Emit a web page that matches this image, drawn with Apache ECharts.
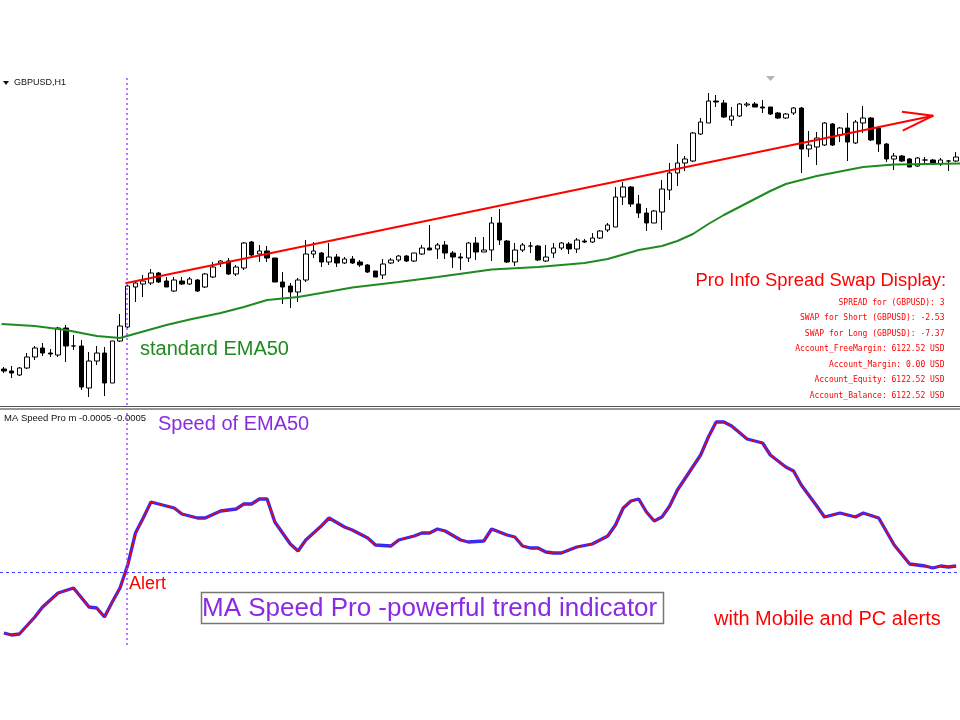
<!DOCTYPE html>
<html><head><meta charset="utf-8">
<script src="https://cdn.jsdelivr.net/npm/echarts@6/dist/echarts.min.js"></script>
<style>html,body{margin:0;padding:0;background:#fff}#c{width:960px;height:720px}</style>
</head><body><div id="c"></div>
<script>
// GBPUSD H1 candles (price in pips above an arbitrary base)
const opens  = [41,39,35,42,53,62,57,55,82,64,64,22,49,57,27,69,83,123,126,127,137,129,119,129,126,130,123,133,147,149,136,142,168,156,159,152,128,124,118,130,156,157,148,153,147,151,148,145,139,135,147,150,154,149,156,162,161,165,157,153,152,167,158,160,187,169,148,160,164,164,149,157,162,166,161,169,168,172,180,183,213,223,206,197,187,198,220,237,247,249,276,287,309,307,290,294,305,306,303,303,297,292,297,302,261,263,265,286,275,282,267,287,292,282,266,251,254,251,244,250,250,246,249,249];
const closes = [39,37,42,53,62,57,56,82,64,64,23,49,57,27,69,84,124,127,129,137,128,123,130,126,131,119,136,143,149,136,143,167,155,159,152,128,123,118,130,156,159,148,153,147,151,147,145,138,133,146,150,154,149,157,162,160,165,157,153,152,167,158,160,187,170,148,160,165,164,150,153,162,167,161,170,168,172,179,185,213,223,206,197,187,199,221,237,247,251,277,288,309,308,293,294,306,306,303,302,296,292,296,302,261,265,272,287,265,282,268,288,292,270,266,251,254,249,243,252,250,246,250,249,253];
const lows   = [37,32,34,41,50,54,53,53,48,60,20,13,45,14,27,68,82,108,113,125,127,123,118,125,125,118,122,132,143,135,134,140,153,148,148,128,106,102,108,128,152,143,145,143,146,146,143,137,133,131,146,148,148,148,155,160,151,151,142,140,148,150,158,149,165,147,144,158,157,149,148,152,160,156,157,167,167,171,178,183,205,203,192,179,187,180,210,224,239,248,275,287,303,292,284,293,303,303,297,295,291,291,295,237,253,245,264,264,268,249,266,277,269,258,248,240,248,243,243,245,245,244,239,248];
const highs  = [43,44,43,57,64,67,61,83,85,75,70,58,64,63,69,96,125,128,135,141,138,133,133,133,133,131,137,148,150,152,145,168,169,165,164,152,138,127,132,170,168,158,167,156,153,154,150,146,139,151,152,155,155,157,165,185,167,169,159,157,168,173,173,193,201,170,167,167,168,165,165,167,168,168,172,171,177,180,187,223,228,224,215,202,200,230,247,266,254,278,292,317,315,310,303,307,308,308,310,303,298,297,303,303,279,278,288,287,283,297,290,304,293,283,267,257,255,252,253,253,251,252,250,258];

// EMA50 read at selected bars
const emaIdx = [-0.3,4,8,12,15,18,21,24,28,31,34,38,41,45,51,56,63,69,75,78,82,85,87,89,91,93,95,97,99,101,105,111,115,123.5];
const emaVal = [86,84,80,74,72,78.5,85,90.5,97,103,110,113,117,122.5,128,133,140.5,143,147,151,160,164,169,176,186,195,203,211,219,226,234,243,245.5,246.5];

// red trend line with open arrow head
const trendIdx = [15.7,120.05];
const trendVal = [126.7,294.3];
const arrowIdx = [116,120.05,116.1];
const arrowVal = [298.3,294.3,279.3];

// MA Speed Pro indicator
const spIdx = [0,1,2,4,5,7,9,11,12,13,14,15,16,17,18,19,20,22,23,25,26,28,30,31,32,33,34,35,37,38,39,41,42,44,45,47,48,50,51,53,54,55,56,57,59,60,62,63,64,65,66,67,68,69,70,71,72,74,76,78,79,80,81,82,83,84,85,86,87,90,91,92,93,94,96,98,99,101,102,103,105,106,108,110,111,113,115,117,119,120,121,122,123];
const spVal = [-61,-63,-62,-45,-35,-21,-16,-35,-36,-45,-30,-16,7,39,54,70,68,64,58,54,54,61,63,68,68,73,73,50,28,21,32,46,54,45,42,34,27,26,32,36,39,39,43,41,32,30,31,43,40,37,35,26,24,24,20,19,19,25,28,36,47,64,71,73,60,51,55,66,82,117,135,150,150,146,133,129,117,105,101,87,66,55,59,55,59,54,27,8,6,4,6,5,6];

const alertBar = 15.9;

const infoLines = [
  'SPREAD for (GBPUSD): 3',
  'SWAP for Short (GBPUSD): -2.53',
  'SWAP for Long (GBPUSD): -7.37',
  'Account_FreeMargin: 6122.52 USD',
  'Account_Margin: 0.00 USD',
  'Account_Equity: 6122.52 USD',
  'Account_Balance: 6122.52 USD'
];

const categories = opens.map((_, i) => i);
const candles = opens.map((o, i) => [o, closes[i], lows[i], highs[i]]);
const pairs = (a, b) => a.map((x, i) => [x, b[i]]);

const N = opens.length;
const chart = echarts.init(document.getElementById('c'), null, {renderer: 'canvas'});
const SANS = '"Liberation Sans", Arial, sans-serif';
const VIOLET = '#8a2be2';

const infoGraphics = infoLines.map((t, k) => ({
  type: 'text', style: {text: t, x: 944.5, y: 302.7 + k * 15.5, font: '8px "DejaVu Sans Mono", monospace', fill: '#ff0000', align: 'right', verticalAlign: 'middle'}
}));

chart.setOption({
  animation: false,
  backgroundColor: '#ffffff',
  grid: [
    {left: -2, right: 0, top: 75, height: 330},
    {left: -2, right: 0, top: 410, height: 235}
  ],
  xAxis: [
    {type: 'category', gridIndex: 0, data: categories, show: false, boundaryGap: true},
    {type: 'value', gridIndex: 0, min: -0.5, max: N - 0.5, show: false},
    {type: 'value', gridIndex: 1, min: -0.5, max: N - 0.5, show: false}
  ],
  yAxis: [
    {type: 'value', gridIndex: 0, min: 5, max: 335, show: false, splitLine: {show: false}},
    {type: 'value', gridIndex: 1, min: -73, max: 162, show: false, splitLine: {show: false}}
  ],
  series: [
    {
      type: 'candlestick', xAxisIndex: 0, yAxisIndex: 0, data: candles, barWidth: 5, z: 2,
      itemStyle: {color: '#ffffff', color0: '#000000', borderColor: '#000000', borderColor0: '#000000', borderWidth: 1}
    },
    {
      type: 'line', xAxisIndex: 1, yAxisIndex: 0, data: pairs(emaIdx, emaVal), symbol: 'none', z: 3,
      lineStyle: {color: '#1f8a1f', width: 2},
      markLine: {silent: true, symbol: ['none', 'none'], label: {show: false},
        lineStyle: {color: '#9d4dff', type: [2, 3], width: 1.5}, data: [{xAxis: alertBar}]}
    },
    {
      type: 'line', xAxisIndex: 1, yAxisIndex: 0, data: pairs(trendIdx, trendVal), symbol: 'none', z: 4,
      lineStyle: {color: '#ff0000', width: 2}
    },
    {
      type: 'line', xAxisIndex: 1, yAxisIndex: 0, data: pairs(arrowIdx, arrowVal), symbol: 'none', z: 4,
      lineStyle: {color: '#ff0000', width: 2}
    },
    {
      type: 'line', xAxisIndex: 2, yAxisIndex: 1, data: pairs(spIdx, spVal), symbol: 'none', z: 3,
      lineStyle: {color: '#2a2aff', width: 3.3},
      markLine: {silent: true, symbol: ['none', 'none'], label: {show: false},
        data: [
          {xAxis: alertBar, lineStyle: {color: '#9d4dff', type: [2, 3], width: 1.5}},
          {yAxis: 0, lineStyle: {color: '#3b3bff', type: [3, 3], width: 1}}
        ]}
    },
    {
      type: 'line', xAxisIndex: 2, yAxisIndex: 1, data: pairs(spIdx, spVal), symbol: 'none', z: 4,
      lineStyle: {color: '#ff0000', width: 1.2}
    }
  ],
  graphic: [
    {type: 'line', shape: {x1: 0, y1: 406.5, x2: 960, y2: 406.5}, style: {stroke: '#555', lineWidth: 1.2}},
    {type: 'line', shape: {x1: 0, y1: 409, x2: 960, y2: 409}, style: {stroke: '#333', lineWidth: 1.2}},
    {type: 'polygon', shape: {points: [[3, 81], [9, 81], [6, 85]]}, style: {fill: '#111'}},
    {type: 'text', style: {text: 'GBPUSD,H1', x: 14, y: 83, font: '9px ' + SANS, fill: '#111', align: 'left', verticalAlign: 'middle'}},
    {type: 'polygon', shape: {points: [[766, 76], [775, 76], [770.5, 81]]}, style: {fill: '#b4b4b4'}},
    {type: 'text', style: {text: 'standard EMA50', x: 140, y: 349, font: '20px ' + SANS, fill: '#1f8a1f', align: 'left', verticalAlign: 'middle'}},
    {type: 'text', style: {text: 'Pro Info Spread Swap Display:', x: 946, y: 281, font: '18.4px ' + SANS, fill: '#ff0000', align: 'right', verticalAlign: 'middle'}},
    ...infoGraphics,
    {type: 'text', style: {text: 'MA Speed Pro m -0.0005 -0.0005', x: 4, y: 418, font: '9.5px ' + SANS, fill: '#111', align: 'left', verticalAlign: 'middle'}},
    {type: 'text', style: {text: 'Speed of EMA50', x: 158, y: 424, font: '20px ' + SANS, fill: VIOLET, align: 'left', verticalAlign: 'middle'}},
    {type: 'text', style: {text: 'Alert', x: 129, y: 584, font: '18px ' + SANS, fill: '#ff0000', align: 'left', verticalAlign: 'middle'}},
    {type: 'rect', shape: {x: 201.5, y: 592.5, width: 462, height: 31}, style: {fill: 'none', stroke: '#777', lineWidth: 1.5}},
    {type: 'text', style: {text: 'MA Speed Pro -powerful trend indicator', x: 202, y: 608.5, font: '26px ' + SANS, fill: VIOLET, align: 'left', verticalAlign: 'middle'}},
    {type: 'text', style: {text: 'with Mobile and PC alerts', x: 714, y: 619, font: '20px ' + SANS, fill: '#ff0000', align: 'left', verticalAlign: 'middle'}}
  ]
});
</script>
</body></html>
